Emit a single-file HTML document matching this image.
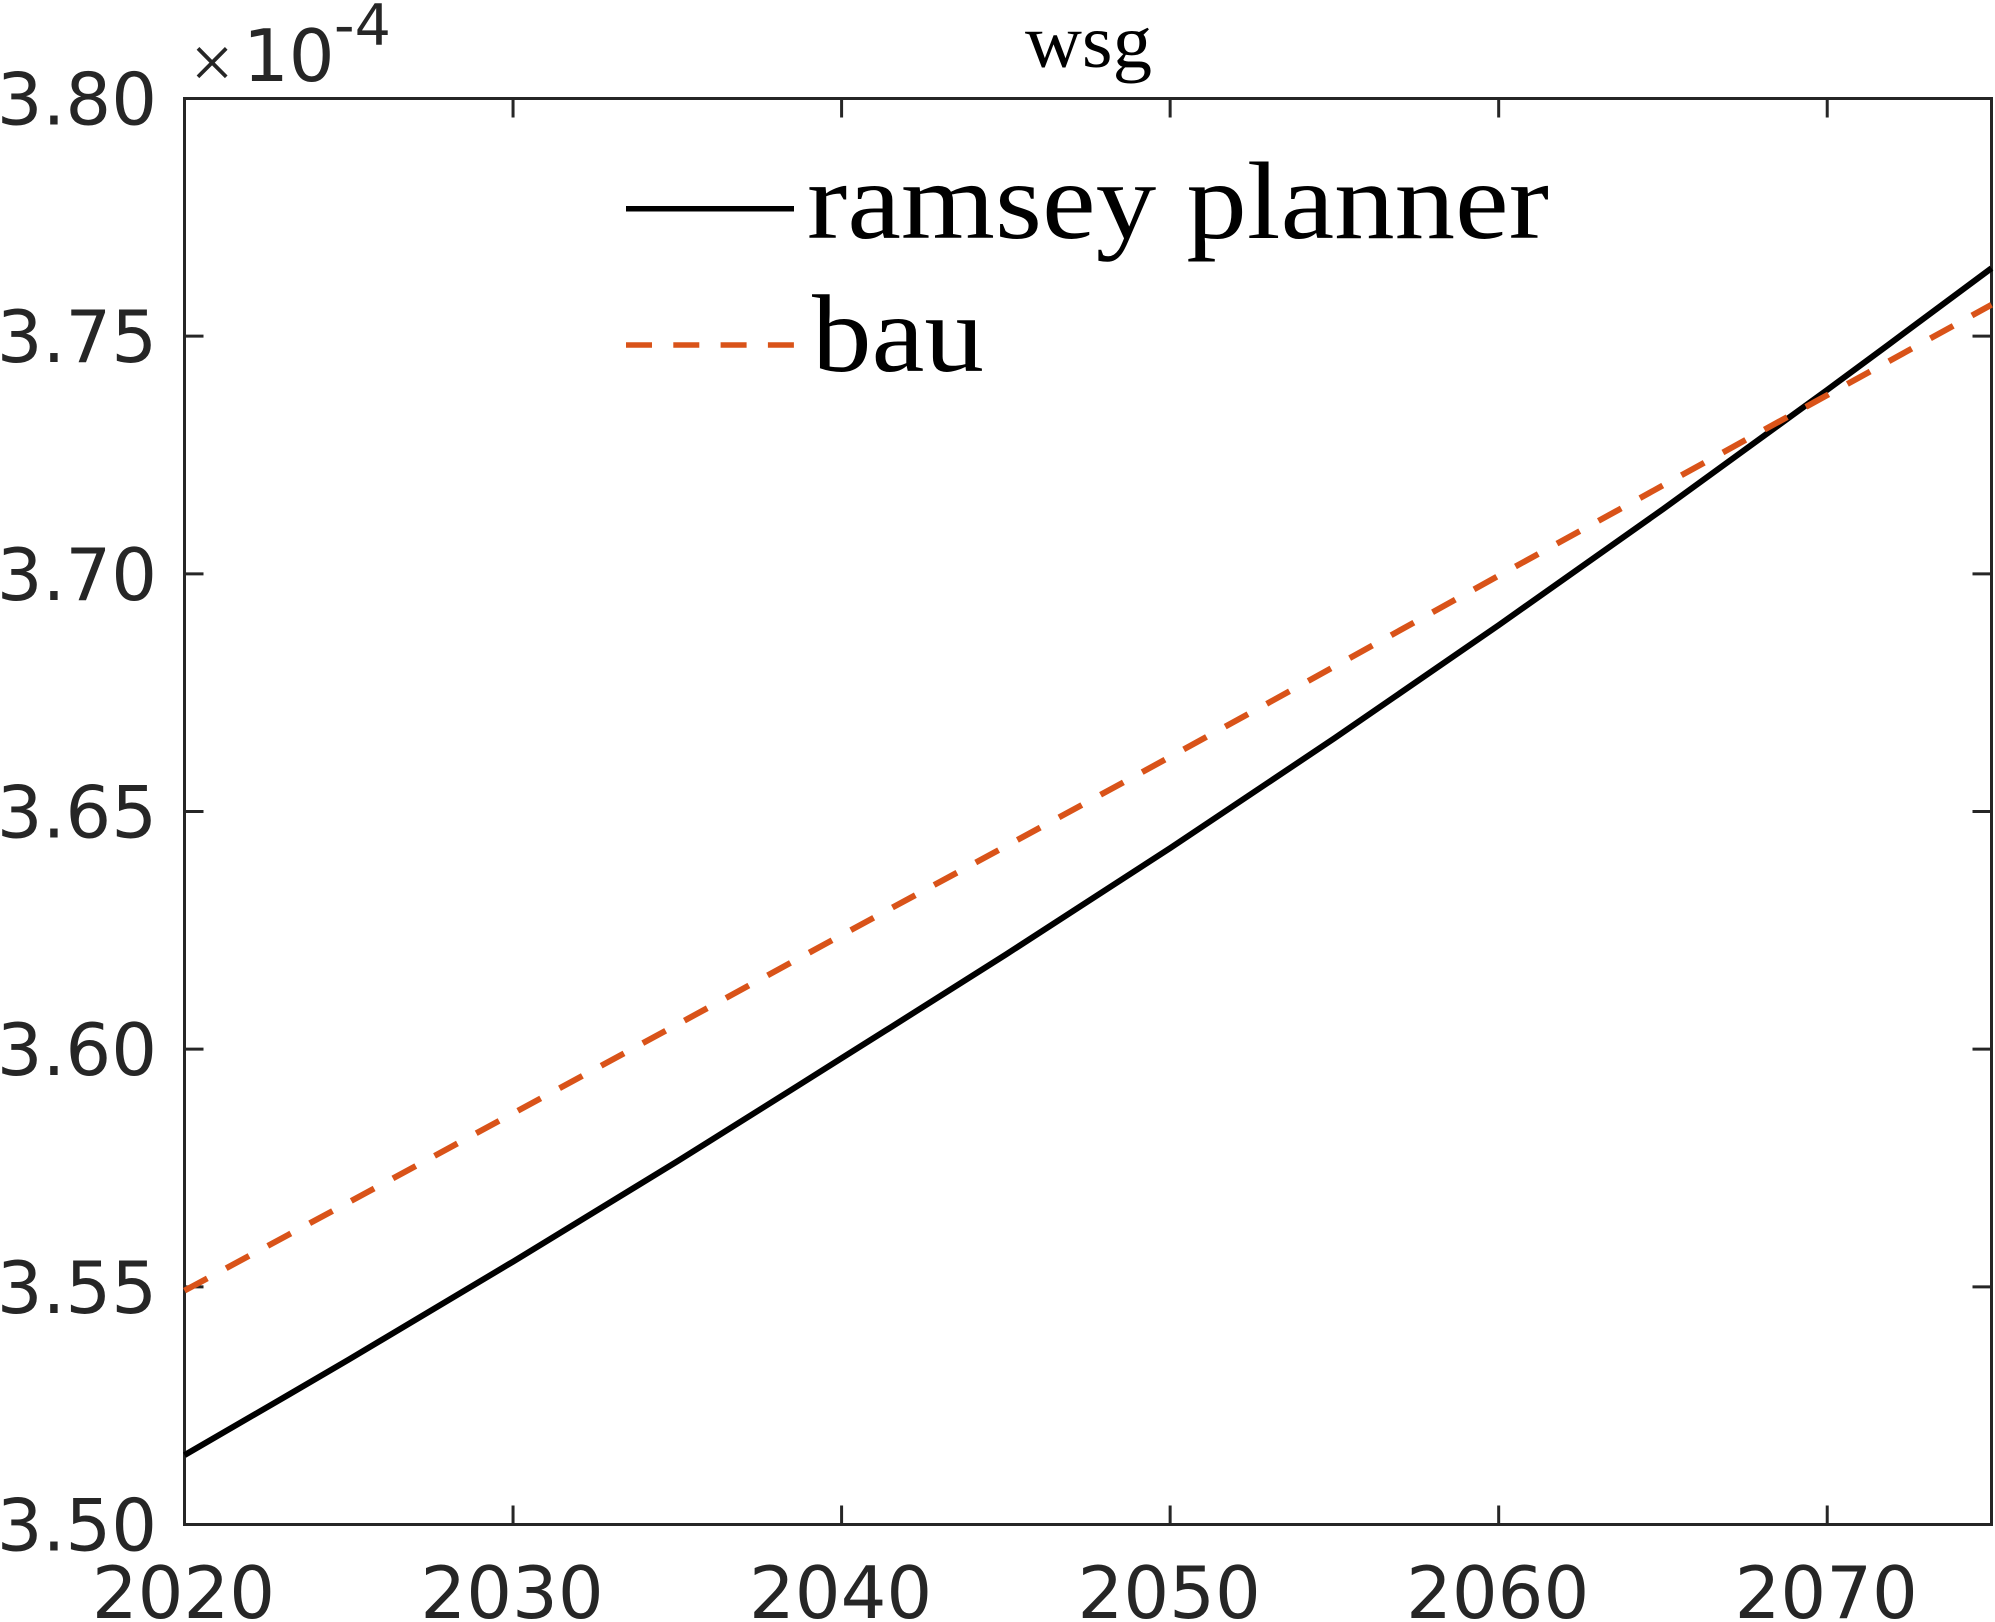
<!DOCTYPE html>
<html lang="en">
<head>
<meta charset="utf-8">
<title>wsg</title>
<style>
html,body{margin:0;padding:0;background:#fff;}
body{width:1995px;height:1622px;overflow:hidden;}
svg{display:block;}
.tick-label{font-family:"DejaVu Sans","Liberation Sans",sans-serif;font-size:72px;fill:#262626;}
.serif{font-family:"Liberation Serif",serif;fill:#000;}
</style>
</head>
<body>
<svg id="chart" xmlns="http://www.w3.org/2000/svg" width="1995" height="1622" viewBox="0 0 1995 1622">
  <rect x="184.5" y="98.5" width="1807" height="1426" fill="#fff"/>
  <g id="ticks"></g>
  <rect x="184.5" y="98.5" width="1807" height="1426" fill="none" stroke="#262626" stroke-width="3"/>
  <g id="labels"></g>
  <text x="212" y="88" text-anchor="middle" style="font-family:'Liberation Serif',serif;font-size:76px;fill:#262626;">×</text>
  <text class="tick-label" x="243" y="81">10</text>
  <text class="tick-label" x="334" y="45" style="font-size:57px;">-4</text>
  <text class="serif" x="1025" y="67" font-size="76" textLength="127" lengthAdjust="spacingAndGlyphs">wsg</text>
  <g id="series"></g>
  <g>
    <line x1="626" y1="208.7" x2="794" y2="208.7" stroke="#000" stroke-width="5.5"/>
    <text class="serif" x="807" y="238" font-size="110" textLength="742" lengthAdjust="spacingAndGlyphs">ramsey planner</text>
    <line x1="626" y1="345" x2="794" y2="345" stroke="#D95319" stroke-width="5.5" stroke-dasharray="26 21.3"/>
    <text class="serif" x="812" y="371" font-size="110" textLength="172" lengthAdjust="spacingAndGlyphs">bau</text>
  </g>
</svg>
<script>
const years = [2020, 2025, 2030, 2035, 2040, 2045, 2050, 2055, 2060, 2065, 2070, 2075];
const ramseyPlanner = [3.5146, 3.5347, 3.5553, 3.5764, 3.5981, 3.6199, 3.6423, 3.6654, 3.6892, 3.7136, 3.7387, 3.7643];
const bau = [3.5492, 3.5678, 3.5865, 3.6052, 3.6240, 3.6427, 3.6615, 3.6805, 3.6996, 3.7186, 3.7376, 3.7566];
const xTicks = [2020, 2030, 2040, 2050, 2060, 2070];
const yTicks = [3.50, 3.55, 3.60, 3.65, 3.70, 3.75, 3.80];
const xDomain = [2020, 2075];
const yDomain = [3.50, 3.80];

const NS = 'http://www.w3.org/2000/svg';
const LEFT = 184.5, RIGHT = 1991.5, TOP = 98.5, BOTTOM = 1524.5, TICK = 19;
function xScale(v) { return LEFT + (v - xDomain[0]) / (xDomain[1] - xDomain[0]) * (RIGHT - LEFT); }
function yScale(v) { return BOTTOM - (v - yDomain[0]) / (yDomain[1] - yDomain[0]) * (BOTTOM - TOP); }
function make(tag, attrs) {
  const el = document.createElementNS(NS, tag);
  for (const k in attrs) el.setAttribute(k, attrs[k]);
  return el;
}
const tickGroup = document.getElementById('ticks');
const labelGroup = document.getElementById('labels');
const seriesGroup = document.getElementById('series');
const tickStyle = { stroke: '#262626', 'stroke-width': 3 };

xTicks.forEach(function (t) {
  const x = xScale(t);
  [[BOTTOM, BOTTOM - TICK], [TOP, TOP + TICK]].forEach(function (p) {
    const l = make('line', Object.assign({ x1: x, x2: x, y1: p[0], y2: p[1] }, tickStyle));
    
    
    tickGroup.appendChild(l);
  });
  const label = make('text', { x: x - 1, y: 1618, 'text-anchor': 'middle', class: 'tick-label' });
  label.textContent = String(t);
  
  
  labelGroup.appendChild(label);
});

yTicks.forEach(function (t) {
  const y = yScale(t);
  [[LEFT, LEFT + TICK], [RIGHT, RIGHT - TICK]].forEach(function (p) {
    const l = make('line', Object.assign({ x1: p[0], x2: p[1], y1: y, y2: y }, tickStyle));
    
    
    tickGroup.appendChild(l);
  });
  const label = make('text', { x: 157, y: y + 26, 'text-anchor': 'end', class: 'tick-label' });
  label.textContent = t.toFixed(2);
  
  
  labelGroup.appendChild(label);
});

// Smooth (Catmull-Rom) path through the data points, computed from the arrays.
function curveFor(values) {
  const pts = values.map(function (v, i) { return [xScale(years[i]), yScale(v)]; });
  let d = 'M' + pts[0][0].toFixed(2) + ' ' + pts[0][1].toFixed(2);
  for (let i = 0; i < pts.length - 1; i++) {
    const p0 = pts[Math.max(i - 1, 0)], p1 = pts[i], p2 = pts[i + 1], p3 = pts[Math.min(i + 2, pts.length - 1)];
    const c1x = p1[0] + (p2[0] - p0[0]) / 6, c1y = p1[1] + (p2[1] - p0[1]) / 6;
    const c2x = p2[0] - (p3[0] - p1[0]) / 6, c2y = p2[1] - (p3[1] - p1[1]) / 6;
    d += 'C' + c1x.toFixed(2) + ' ' + c1y.toFixed(2) + ' ' + c2x.toFixed(2) + ' ' + c2y.toFixed(2) + ' ' + p2[0].toFixed(2) + ' ' + p2[1].toFixed(2);
  }
  return d;
}

const ramseyLine = make('path', { d: curveFor(ramseyPlanner), fill: 'none', stroke: '#000', 'stroke-width': 6 });


seriesGroup.appendChild(ramseyLine);

const bauLine = make('path', { d: curveFor(bau), fill: 'none', stroke: '#D95319', 'stroke-width': 6, 'stroke-dasharray': '26 21.35' });


seriesGroup.appendChild(bauLine);
</script>
</body>
</html>
